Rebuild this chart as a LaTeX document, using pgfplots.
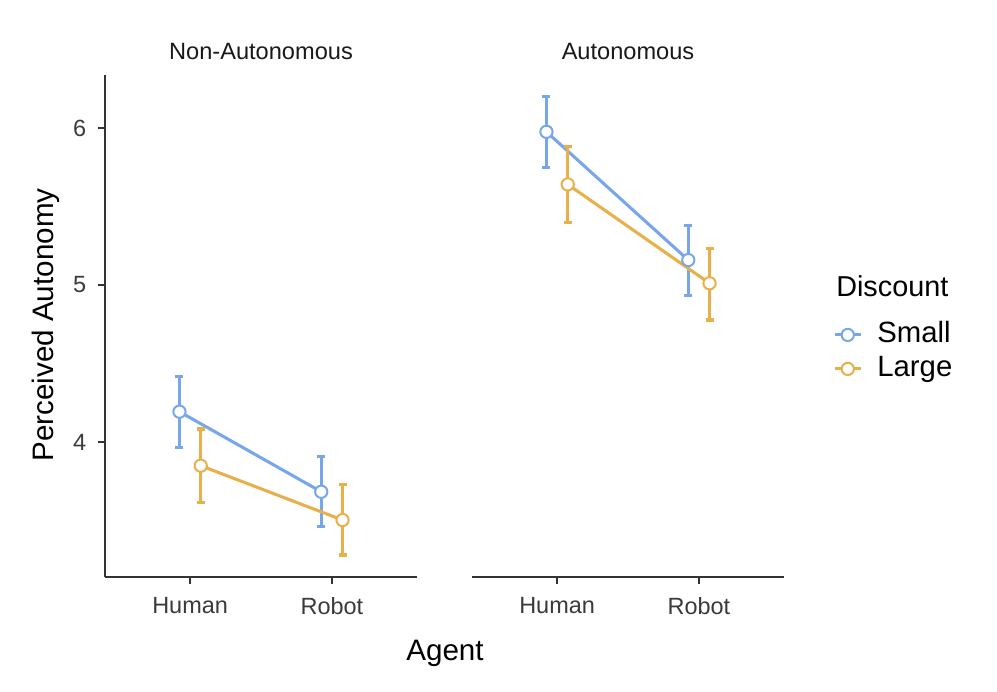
\documentclass[border=0pt]{standalone}
\usepackage{pgfplots}
\usepackage{pgfplotstable}
\pgfplotsset{compat=1.18}
\usepackage{fontspec}
\setmainfont{Liberation Sans}
\definecolor{cSmall}{HTML}{77A6EA}
\definecolor{cLarge}{HTML}{E8B04A}
\definecolor{axgray}{HTML}{333333}
\definecolor{tickgray}{HTML}{3A3A3A}

% x: Human = 1, Robot = 2 (dodged by 0.075)
\pgfplotstableread{
x     y     ep    em
0.925 4.193 0.227 0.227
1.925 3.683 0.226 0.223
}\nonSmall
\pgfplotstableread{
x     y     ep    em
1.075 3.849 0.234 0.233
2.075 3.503 0.229 0.223
}\nonLarge
\pgfplotstableread{
x     y     ep    em
0.925 5.976 0.223 0.227
1.925 5.159 0.223 0.223
}\autSmall
\pgfplotstableread{
x     y     ep    em
1.075 5.641 0.240 0.244
2.075 5.011 0.223 0.234
}\autLarge

\pgfplotsset{
  facet/.style={
    scale only axis, width=234pt, height=376.5pt,
    xmin=0.4, xmax=2.6, ymin=3.140, ymax=6.338,
    axis line style={axgray, line width=1.6pt},
    tick style={axgray, line width=1.6pt},
    tick align=outside, major tick length=5.25pt,
    xtick={1,2}, xticklabels={Human,Robot},
    ytick={4,5,6},
    /pgf/number format/assume math mode=true,
    ticklabel style={font=\fontsize{17.6}{20}\selectfont, text=tickgray},
    xticklabel style={yshift=-6.4pt},
    yticklabel style={xshift=-5.3pt},
    clip=false,
  },
  ser/.style={
    color=#1, line width=2.3pt, mark=*,
    mark size=4.6pt,
    mark options={fill=white, draw=#1, line width=1.5pt},
    error bars/.cd, y dir=both, y explicit,
    error mark=|,
    error bar style={line width=2.3pt, #1},
    error mark options={line width=2.3pt, mark size=3pt, #1},
  },
}

\begin{document}
\begin{tikzpicture}
\path[use as bounding box] (0,0) rectangle (747.75pt,519pt);

\begin{axis}[facet, at={(78.75pt,86.25pt)}, anchor=south west,
  axis x line*=bottom, axis y line*=left]
  \addplot[ser=cSmall] table[x=x, y=y, y error plus=ep, y error minus=em] {\nonSmall};
  \addplot[ser=cLarge] table[x=x, y=y, y error plus=ep, y error minus=em] {\nonLarge};
\end{axis}

\begin{axis}[facet, at={(354pt,86.25pt)}, anchor=south west,
  axis x line*=bottom, axis y line=none, ytick=\empty,
  legend cell align=left,
  legend image code/.code={
    \draw[mark repeat=2, mark phase=2, #1] plot coordinates {(0pt,0pt) (9.75pt,0pt) (19.5pt,0pt)};
  },
  legend style={
    draw=none, fill=none, inner sep=0pt,
    at={(1.157,0.5106)}, anchor=north west,
    font=\fontsize{22}{26}\selectfont,
    nodes={inner sep=0pt, text height=16pt, text depth=5pt},
    row sep=4.5pt, column sep=11.25pt,
  },
]
  \addplot[ser=cSmall] table[x=x, y=y, y error plus=ep, y error minus=em] {\autSmall};
  \addlegendentry{Small}
  \addplot[ser=cLarge] table[x=x, y=y, y error plus=ep, y error minus=em] {\autLarge};
  \addlegendentry{Large}
\end{axis}

% strip titles
\node[anchor=base, inner sep=0pt, text=black!90, font=\fontsize{17.7}{20}\selectfont] at (195.75pt,474pt) {Non-Autonomous};
\node[anchor=base, inner sep=0pt, text=black!90, font=\fontsize{17.7}{20}\selectfont] at (471pt,474pt) {Autonomous};
% axis titles
\node[anchor=base, inner sep=0pt, rotate=90, font=\fontsize{22.2}{26}\selectfont] at (39.75pt,275.25pt) {Perceived Autonomy};
\node[anchor=base, inner sep=0pt, font=\fontsize{22.2}{26}\selectfont] at (333.75pt,23.25pt) {Agent};
% legend title
\node[anchor=base west, inner sep=0pt, font=\fontsize{21.6}{26}\selectfont] at (627pt,296.25pt) {Discount};
\end{tikzpicture}
\end{document}
